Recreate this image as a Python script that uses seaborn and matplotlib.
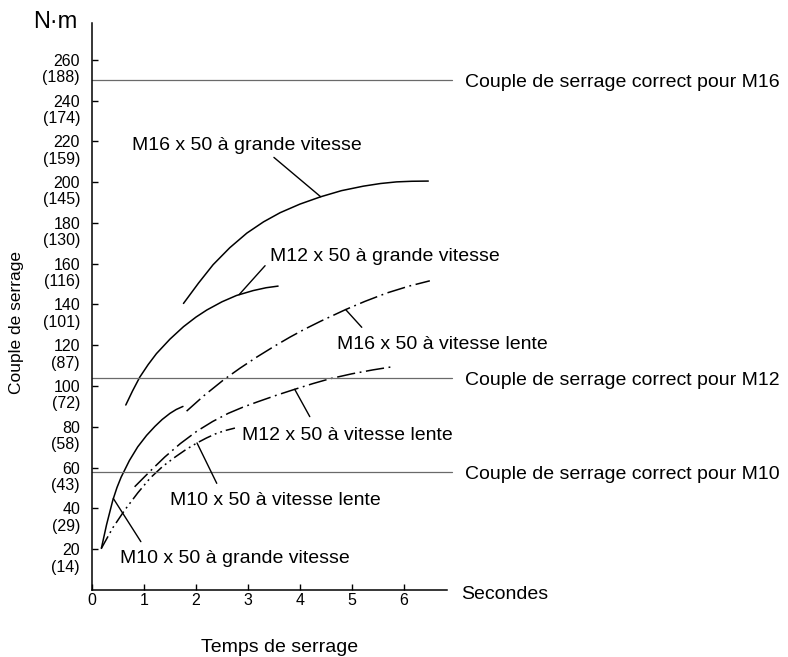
import matplotlib
matplotlib.use("Agg")
import matplotlib.pyplot as plt
import pandas as pd
import seaborn as sns

# --- tightening curves: time (s) vs torque (N·m) ---
time_m16_fast = [1.76, 2.05, 2.33, 2.65, 2.98, 3.30, 3.62, 4.00, 4.40, 4.80,
                 5.22, 5.55, 5.86, 6.15, 6.47]
torque_m16_fast = [140.5, 150.5, 159.5, 167.8, 175.0, 180.5, 185.0, 189.2,
                   192.8, 195.8, 198.0, 199.3, 200.1, 200.4, 200.5]

time_m12_fast = [0.65, 0.78, 0.92, 1.08, 1.24, 1.50, 1.76, 2.00, 2.21, 2.50,
                 2.78, 3.10, 3.35, 3.58]
torque_m12_fast = [90.7, 97.6, 104.4, 110.5, 115.9, 123.0, 129.1, 133.8,
                   137.3, 141.3, 144.4, 146.8, 148.2, 149.0]

time_m10_fast = [0.18, 0.28, 0.40, 0.48, 0.56, 0.72, 0.88, 1.05, 1.21, 1.35,
                 1.50, 1.62, 1.75]
torque_m10_fast = [20.4, 32.0, 44.0, 50.2, 55.3, 63.5, 70.2, 75.8, 80.2, 83.6,
                   86.6, 88.5, 90.0]

time_m16_slow = [1.82, 2.15, 2.53, 2.85, 3.17, 3.50, 3.81, 4.10, 4.40, 4.88,
                 5.25, 5.67, 6.10, 6.50]
torque_m16_slow = [87.7, 95.2, 103.0, 108.8, 114.2, 119.4, 124.0, 128.0,
                   131.8, 137.5, 141.5, 145.6, 149.0, 151.6]

time_m12_slow = [0.82, 1.12, 1.40, 1.70, 2.02, 2.32, 2.62, 2.90, 3.19, 3.55,
                 3.90, 4.25, 4.58, 5.00, 5.40, 5.79]
torque_m12_slow = [50.6, 58.3, 65.2, 71.8, 77.9, 82.6, 86.6, 89.6, 92.3, 95.5,
                   98.4, 101.2, 103.6, 106.0, 107.9, 109.5]

time_m10_slow = [0.18, 0.40, 0.63, 0.88, 1.12, 1.36, 1.60, 1.81, 2.02, 2.20,
                 2.37, 2.55, 2.75]
torque_m10_slow = [20.4, 30.5, 39.2, 47.6, 54.9, 60.6, 65.2, 68.9, 72.1, 74.5,
                   76.5, 78.1, 79.4]

series_names = [
    "M16 x 50 à grande vitesse",
    "M12 x 50 à grande vitesse",
    "M10 x 50 à grande vitesse",
    "M16 x 50 à vitesse lente",
    "M12 x 50 à vitesse lente",
    "M10 x 50 à vitesse lente",
]
series_time = [time_m16_fast, time_m12_fast, time_m10_fast,
               time_m16_slow, time_m12_slow, time_m10_slow]
series_torque = [torque_m16_fast, torque_m12_fast, torque_m10_fast,
                 torque_m16_slow, torque_m12_slow, torque_m10_slow]

# correct tightening torque per bolt size
correct_labels = ["Couple de serrage correct pour M16",
                  "Couple de serrage correct pour M12",
                  "Couple de serrage correct pour M10"]
correct_torque = [250, 104, 58]

# axis ticks: N·m with ft·lb equivalent in brackets
y_ticks = [20, 40, 60, 80, 100, 120, 140, 160, 180, 200, 220, 240, 260]
y_ftlb = ["(14)", "(29)", "(43)", "(58)", "(72)", "(87)", "(101)", "(116)",
          "(130)", "(145)", "(159)", "(174)", "(188)"]
x_ticks = [0, 1, 2, 3, 4, 5, 6]

# label positions (time, torque) and leader lines (from, to)
label_pos = [(0.76, 215.7), (3.42, 161.4), (0.53, 13.1),
             (4.71, 118.0), (2.89, 73.5), (1.51, 41.7)]
leader_from = [(3.50, 212.1), (3.33, 159.0), (0.94, 23.7),
               (5.19, 128.8), (4.19, 85.0), (2.40, 52.3)]
leader_to = [(4.40, 192.8), (2.83, 144.8), (0.41, 44.9),
             (4.88, 137.5), (3.90, 98.4), (2.02, 72.1)]

rows = []
for name, ts, vs in zip(series_names, series_time, series_torque):
    for t, v in zip(ts, vs):
        rows.append({"series": name, "time": t, "torque": v})
df = pd.DataFrame(rows)

sns.set_theme(style="white")
plt.rcParams["font.family"] = ["Liberation Sans", "DejaVu Sans"]
plt.rcParams["text.color"] = "black"

fig = plt.figure(figsize=(7.88, 6.57), dpi=100)
ax = fig.add_axes([92 / 788, 67 / 657, 355 / 788, 567 / 657])

dash_map = {
    "M16 x 50 à grande vitesse": "",
    "M12 x 50 à grande vitesse": "",
    "M10 x 50 à grande vitesse": "",
    "M16 x 50 à vitesse lente": (12, 3, 1.2, 3),
    "M12 x 50 à vitesse lente": (12, 3, 1.2, 3),
    "M10 x 50 à vitesse lente": (9, 2.6, 1.2, 2.6, 1.2, 2.6),
}
sns.lineplot(data=df, x="time", y="torque", hue="series", style="series",
             palette={n: "black" for n in series_names}, dashes=dash_map,
             sort=False, estimator=None, legend=False, lw=1.1, ax=ax)

ax.set_xlim(0, 6.83)
ax.set_ylim(0, 278)

for lbl, val in zip(correct_labels, correct_torque):
    ax.plot([0, 6.92], [val, val], color="#6a6a6a", lw=0.9, clip_on=False)
    ax.text(7.17, val - 3.4, lbl, fontsize=14, ha="left", va="baseline",
            clip_on=False)

for name, (tx, ty), (x0, y0), (x1, y1) in zip(series_names, label_pos,
                                               leader_from, leader_to):
    ax.plot([x0, x1], [y0, y1], color="black", lw=1.0)
    ax.text(tx, ty, name, fontsize=14, ha="left", va="baseline")

sns.despine(ax=ax)
for side in ("left", "bottom"):
    ax.spines[side].set_color("black")
    ax.spines[side].set_linewidth(1.1)

ax.set_xticks(x_ticks, labels=[str(v) for v in x_ticks])
ax.set_yticks(y_ticks, labels=[str(v) for v in y_ticks])
ax.set_yticks([v - 8.0 for v in y_ticks], labels=y_ftlb, minor=True)
ax.tick_params(axis="y", which="major", direction="in", length=4, width=1,
               pad=8.6, labelsize=11.5, colors="black", left=True)
ax.tick_params(axis="y", which="minor", length=0, pad=8.6, labelsize=11.5,
               labelcolor="black", left=True)
ax.tick_params(axis="x", which="major", direction="in", length=4, width=1,
               pad=2.5, labelsize=11.5, colors="black", bottom=True)
ax.set_xlabel("")
ax.set_ylabel("")

ax.text(7.1, -4.6, "Secondes", fontsize=14, ha="left", va="baseline",
        clip_on=False)
fig.text(33 / 788, 1 - 28 / 657, "N·m", fontsize=17, ha="left", va="baseline")
fig.text(17 / 788, 1 - 323 / 657, "Couple de serrage", fontsize=12.5,
         rotation=90, ha="center", va="center")
fig.text(280 / 788, 1 - 652 / 657, "Temps de serrage", fontsize=14,
         ha="center", va="baseline")

fig.savefig("out.png", dpi=100)
